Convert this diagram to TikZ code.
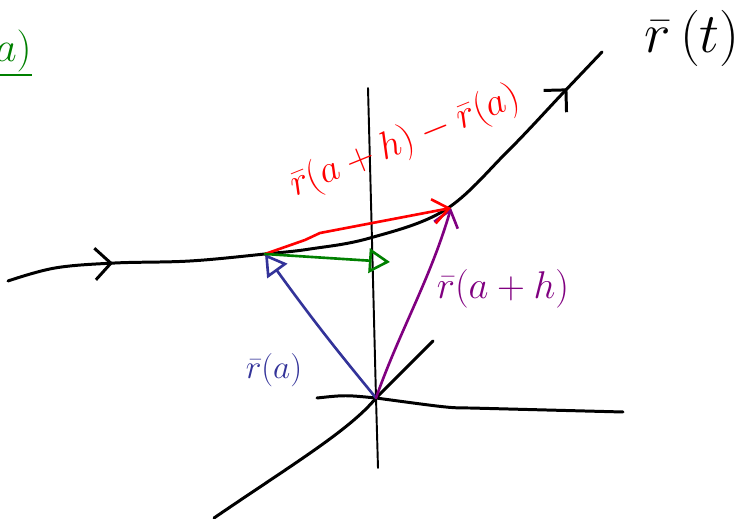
\RequirePackage{fix-cm}
\documentclass[tikz,border=0pt]{standalone}
\usepackage{amsmath}
\usepackage{xcolor}
\usepackage{tikz}
\usetikzlibrary{arrows.meta,decorations.markings}
\definecolor{vecblue}{HTML}{333399}
\definecolor{vecpurple}{HTML}{800080}
\definecolor{vecgreen}{HTML}{008000}
\definecolor{vecred}{HTML}{FF0000}
\tikzset{
  pen/.style={line width=1.7pt,line cap=round,line join=round},
  axis/.style={line width=1.1pt,line cap=round},
  vec/.style={line width=1.5pt,line cap=round,line join=round},
  barb/.style={-{Straight Barb[length=9pt,width=14pt,line width=1.5pt]}},
  openhead/.style={-{Triangle[open,length=12pt,width=14pt,line width=1.5pt]}},
  hand/.style={inner sep=0pt}
}

\begin{document}
\begin{tikzpicture}[x=0.02cm,y=-0.02cm]
    \useasboundingbox (0,0) rectangle (751,519);
    \coordinate (O) at (376,398);
    \coordinate (A) at (265,254);
    \coordinate (B) at (451,208);
    \coordinate (T) at (390,262);
    % axes
    \draw[axis] (368,88) .. controls (372,240) .. (O) -- (378,468);
    \draw[pen] (317,398) .. controls (345,395) .. (O) .. controls (450,408) .. (470,408) -- (623,412);
    \draw[pen] (214,518) .. controls (290,466) and (350,430) .. (O) -- (433,341);
    % the curve r(t)
    \draw[pen,postaction={decorate},decoration={markings,
        mark=at position 0.16 with {\arrow{Straight Barb[length=9pt,width=18pt,line width=1.7pt]}},
        mark=at position 0.925 with {\arrow{Straight Barb[length=9pt,width=18pt,line width=1.7pt]}}}]
      plot[smooth,tension=0.6] coordinates {(8,281) (55,268) (115,263) (190,261) (A) (310,249) (370,238) (445,210) (507,152) (563,93) (602,52)};
    % vectors
    \draw[vec,vecblue,openhead] (O) .. controls (345,360) and (320,330) .. (A);
    \draw[vec,vecpurple,barb] (O) .. controls (400,330) and (430,280) .. (B);
    \draw[vec,vecred,barb] (A) -- (305,240) -- (320,233) -- (B);
    \draw[vec,vecgreen,openhead] (A) -- (T);
    % labels
    \node[hand,font=\fontsize{32}{36}\selectfont] (rt) at (692,38) {$\bar r\,(t)$};
    \node[hand,vecred,rotate=22,font=\fontsize{22}{26}\selectfont] (rdiff) at (405,142) {$\bar r(a+h)-\bar r(a)$};
    \node[hand,vecpurple,font=\fontsize{22}{26}\selectfont] (rah) at (503,289) {$\bar r(a+h)$};
    \node[hand,vecblue,font=\fontsize{19}{22}\selectfont] (ra) at (274,370) {$\bar r(a)$};
    \node[hand,vecgreen,anchor=south east,font=\fontsize{24}{28}\selectfont] (ga) at (32,72) {$a)$};
    \draw[vecgreen,line width=1.5pt] (0,75) -- (ga.south east |- 0,75);
\end{tikzpicture}
\end{document}
